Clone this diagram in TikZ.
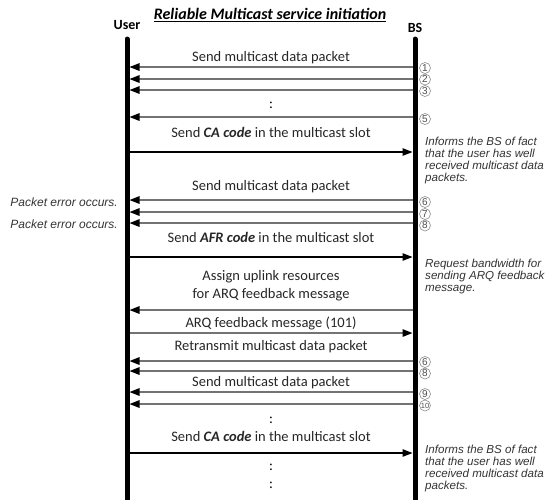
\documentclass[tikz,border=0pt]{standalone}
\usepackage{fontspec}
\setmainfont{Carlito}
\newfontfamily\notefont{Liberation Sans}
\usetikzlibrary{arrows.meta}

\begin{document}
\begin{tikzpicture}[x=1pt, y=-1pt,
    lifeline/.style={line width=5pt, line cap=round},
    datamsg/.style={-{Triangle[length=10pt,width=7.5pt,color=black]}, line width=1.4pt, black!55},
    codemsg/.style={-{Triangle[length=10pt,width=7.5pt]}, line width=1.1pt, black},
    msg/.style={above=5pt, inner sep=0pt, text depth=0pt, align=center, text=black!85,
        font=\fontsize{14.5}{18}\selectfont},
    num/.style={circle, draw=black!45, line width=0.6pt, minimum size=11pt, inner sep=0pt,
        text=black!70, font=\notefont\fontsize{10}{10}\selectfont},
    note/.style={anchor=north west, align=left, inner sep=0pt, text=black!80,
        font=\notefont\itshape\fontsize{11.6}{12}\selectfont},
    err/.style={anchor=base east, inner sep=0pt, text=black!80,
        font=\notefont\itshape\fontsize{12}{12}\selectfont},
    dots/.style={inner sep=0pt, font=\fontsize{14.5}{18}\selectfont}]
        \useasboundingbox (0,0) rectangle (548,499);

        % Title and actors
        \node (title) at (270,15) {\fontsize{16}{18}\selectfont\bfseries\itshape\underline{Reliable Multicast service initiation}};
        \node (user) at (127,25) {\fontsize{14}{16}\selectfont\bfseries User};
        \node (bs) at (415,28) {\fontsize{14}{16}\selectfont\bfseries BS};

        % Lifelines
        \coordinate (utop) at (127,39); \coordinate (ubot) at (127,502);
        \coordinate (btop) at (415,39); \coordinate (bbot) at (415,502);
        \draw[lifeline] (utop) -- (ubot);
        \draw[lifeline] (btop) -- (bbot);

        % Message levels
        \coordinate (b1) at (412.5,67);   \coordinate (u1) at (129.5,67);
        \coordinate (b2) at (412.5,79);   \coordinate (u2) at (129.5,79);
        \coordinate (b3) at (412.5,90);   \coordinate (u3) at (129.5,90);
        \coordinate (b5) at (412.5,117);  \coordinate (u5) at (129.5,117);
        \coordinate (bca) at (412.5,152); \coordinate (uca) at (129.5,152);
        \coordinate (b6) at (412.5,200);  \coordinate (u6) at (129.5,200);
        \coordinate (b7) at (412.5,212);  \coordinate (u7) at (129.5,212);
        \coordinate (b8) at (412.5,223);  \coordinate (u8) at (129.5,223);
        \coordinate (bafr) at (412.5,257); \coordinate (uafr) at (129.5,257);
        \coordinate (bul) at (412.5,310); \coordinate (uul) at (129.5,310);
        \coordinate (bfb) at (412.5,333); \coordinate (ufb) at (129.5,333);
        \coordinate (br6) at (412.5,361); \coordinate (ur6) at (129.5,361);
        \coordinate (br8) at (412.5,371); \coordinate (ur8) at (129.5,371);
        \coordinate (b9) at (412.5,392);  \coordinate (u9) at (129.5,392);
        \coordinate (b10) at (412.5,404); \coordinate (u10) at (129.5,404);
        \coordinate (bca2) at (412.5,453); \coordinate (uca2) at (129.5,453);

        % First multicast burst
        \draw[datamsg] (b1) -- node[msg] {Send multicast data packet} (u1);
        \draw[datamsg] (b2) -- (u2);
        \draw[datamsg] (b3) -- (u3);
        \node[dots] (dots1) at (271,105) {:};
        \draw[datamsg] (b5) -- (u5);
        \node[num] (n1) at (425,68) {1};
        \node[num] (n2) at (425,79.5) {2};
        \node[num] (n3) at (425,91) {3};
        \node[num] (n5) at (425,119) {5};

        % CA code
        \draw[codemsg] (uca) -- node[msg, above=9pt] {Send \textbf{\textit{CA code}} in the multicast slot} (bca);
        \node[note] (note1) at (425,136.5) {Informs the BS of fact\\that the user has well\\received multicast data\\packets.};

        % Second burst with errors
        \draw[datamsg] (b6) -- node[msg, above=4pt] {Send multicast data packet} (u6);
        \draw[datamsg] (b7) -- (u7);
        \draw[datamsg] (b8) -- (u8);
        \node[num] (n6) at (425,202) {6};
        \node[num] (n7) at (425,214) {7};
        \node[num] (n8) at (425,225.5) {8};
        \node[err] (err1) at (118,206) {Packet error occurs.};
        \node[err] (err2) at (118,228) {Packet error occurs.};

        % AFR code and ARQ feedback
        \draw[codemsg] (uafr) -- node[msg, above=9pt] {Send \textbf{\textit{AFR code}} in the multicast slot} (bafr);
        \node[note] (note2) at (425,258.5) {Request bandwidth for\\sending ARQ feedback\\message.};
        \draw[datamsg] (bul) -- node[msg, above=6pt] {Assign uplink resources\\for ARQ feedback message} (uul);
        \draw[datamsg] (ufb) -- node[msg] {ARQ feedback message (101)} (bfb);

        % Retransmission
        \draw[datamsg] (br6) -- node[msg, above=4.5pt] {Retransmit multicast data packet} (ur6);
        \draw[datamsg] (br8) -- (ur8);
        \node[num] (r6) at (425,362) {6};
        \node[num] (r8) at (425,373.5) {8};

        % Next packets
        \draw[datamsg] (b9) -- node[msg] {Send multicast data packet} (u9);
        \draw[datamsg] (b10) -- (u10);
        \node[num] (n9) at (425,394) {9};
        \node[num] (n10) at (425,405.5) {\fontsize{7.5}{7.5}\selectfont 10};
        \node[dots] (dots2) at (271,420) {:};

        % CA code again
        \draw[codemsg] (uca2) -- node[msg, above=6pt] {Send \textbf{\textit{CA code}} in the multicast slot} (bca2);
        \node[note] (note3) at (425,444.5) {Informs the BS of fact\\that the user has well\\received multicast data\\packets.};
        \node[dots] (dots3) at (271,467) {:};
        \node[dots] (dots4) at (271,485) {:};
    \end{tikzpicture}
\end{document}
